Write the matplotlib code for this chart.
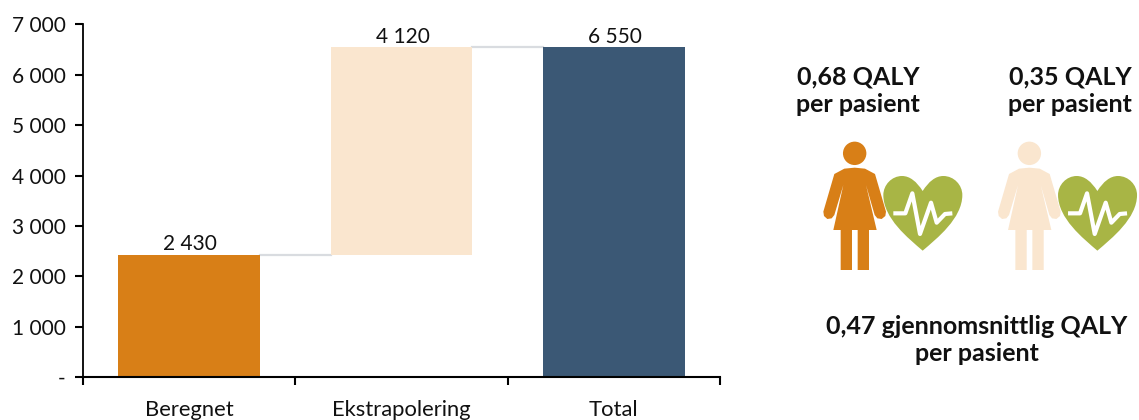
import numpy as np
import matplotlib
matplotlib.use("Agg")
import matplotlib.pyplot as plt
from matplotlib.path import Path
from matplotlib.patches import PathPatch, Circle, Polygon

plt.rcParams['font.family'] = ['Lato', 'DejaVu Sans']

# verdier i figuren
kategorier = ["Beregnet", "Ekstrapolering", "Total"]
verdier = [2430, 4120, 6550]
bunner = [0, 2430, 0]
farger = ["#D87F17", "#FAE6CF", "#3B5875"]
yticks = [0, 1000, 2000, 3000, 4000, 5000, 6000, 7000]
ytick_tekst = ["-", "1 000", "2 000", "3 000", "4 000", "5 000", "6 000", "7 000"]

ORANSJE = "#D87F17"
LYS = "#FAE6CF"
GRONN = "#A8B545"
W, H = 1139, 420

fig = plt.figure(figsize=(W / 100, H / 100), dpi=100)
ax = fig.add_axes([83 / W, 1 - 377 / H, (720 - 83) / W, (377 - 24.5) / H])

x = np.arange(3)
ax.bar(x, verdier, bottom=bunner, width=0.667, color=farger, zorder=2)

# tynne linjer mellom stolpene
topp = [b + v for b, v in zip(bunner, verdier)]
for i in range(2):
    ax.plot([i + 0.333, i + 1 - 0.333], [topp[i], topp[i]], color="#D9DCE0", lw=1.6, zorder=1)

for i in range(3):
    tekst = f"{verdier[i]:,}".replace(",", " ")
    ax.text(x[i] + 0.005, topp[i] + 10, tekst, ha="center", va="bottom", fontsize=15, color="#111111")

ax.set_xlim(-0.5, 2.5)
ax.set_ylim(0, 7000)
ax.set_yticks(yticks)
ax.set_yticklabels(ytick_tekst, fontsize=15, color="#111111")
ax.set_xticks([-0.5, 0.5, 1.5, 2.5])
ax.set_xticklabels([])
for i in range(3):
    ax.annotate(kategorier[i], (x[i], 0), xycoords="data", xytext=(0, -33), textcoords="offset pixels",
                ha="center", va="center", fontsize=15.8, color="#111111", annotation_clip=False)
ax.tick_params(axis="x", length=5.5, width=1.5, direction="out")
ax.tick_params(axis="y", length=5.5, width=1.5, direction="out", pad=7)
ax.spines["top"].set_visible(False)
ax.spines["right"].set_visible(False)
ax.spines["left"].set_linewidth(1.3)
ax.spines["bottom"].set_linewidth(1.5)

# ikonene tegnes i piksler
ik = fig.add_axes([0, 0, 1, 1])
ik.set_xlim(0, W)
ik.set_ylim(H, 0)
ik.axis("off")
ik.patch.set_alpha(0)


def p(a, b, dx):
    return (780 + a / 3 + dx, 130 + b / 3)


def kvinne(dx, farge):
    hx, hy = p(224, 70, dx)
    ik.add_patch(Circle((hx, hy), 11.7, color=farge, lw=0))
    kropp = [(224, 113), (255, 116), (285, 132), (318, 245), (316, 258), (305, 267), (292, 265),
             (284, 255), (258, 165), (290, 300), (267, 300), (267, 420), (233, 420), (233, 300),
             (216, 300), (216, 420), (182, 420), (182, 300), (160, 300), (190, 165), (163, 255),
             (155, 265), (142, 267), (132, 258), (130, 245), (163, 132), (193, 116)]
    ik.add_patch(Polygon([p(a, b, dx) for a, b in kropp], closed=True, color=farge, lw=0))


def hjerte(dx):
    pkt = [(428, 183), (410, 155), (390, 138), (366, 138), (335, 138), (310, 165), (310, 195),
           (310, 265), (385, 325), (428, 362), (471, 325), (547, 265), (547, 195), (547, 165),
           (522, 138), (490, 138), (466, 138), (446, 155), (428, 183)]
    koder = [Path.MOVETO] + [Path.CURVE4] * 18
    ik.add_patch(PathPatch(Path([p(a, b, dx) for a, b in pkt], koder), facecolor=GRONN, edgecolor="none"))
    puls = [(340, 250), (376, 250), (397, 190), (420, 312), (453, 218), (470, 278), (495, 252), (517, 250)]
    xs, ys = zip(*[p(a, b, dx) for a, b in puls])
    ik.plot(xs, ys, color="white", lw=3, solid_joinstyle="round", solid_capstyle="butt")


kvinne(0, ORANSJE)
hjerte(0)
kvinne(174.7, LYS)
hjerte(174.7)

ik.text(858, 91, "0,68 QALY\nper pasient", ha="center", va="center", fontsize=18, fontweight="bold",
        color="#111111", linespacing=1.25)
ik.text(1070, 91, "0,35 QALY\nper pasient", ha="center", va="center", fontsize=18, fontweight="bold",
        color="#111111", linespacing=1.25)
ik.text(976.5, 340, "0,47 gjennomsnittlig QALY\nper pasient", ha="center", va="center", fontsize=18,
        fontweight="bold", color="#111111", linespacing=1.25)

fig.savefig("out.png", dpi=100)
